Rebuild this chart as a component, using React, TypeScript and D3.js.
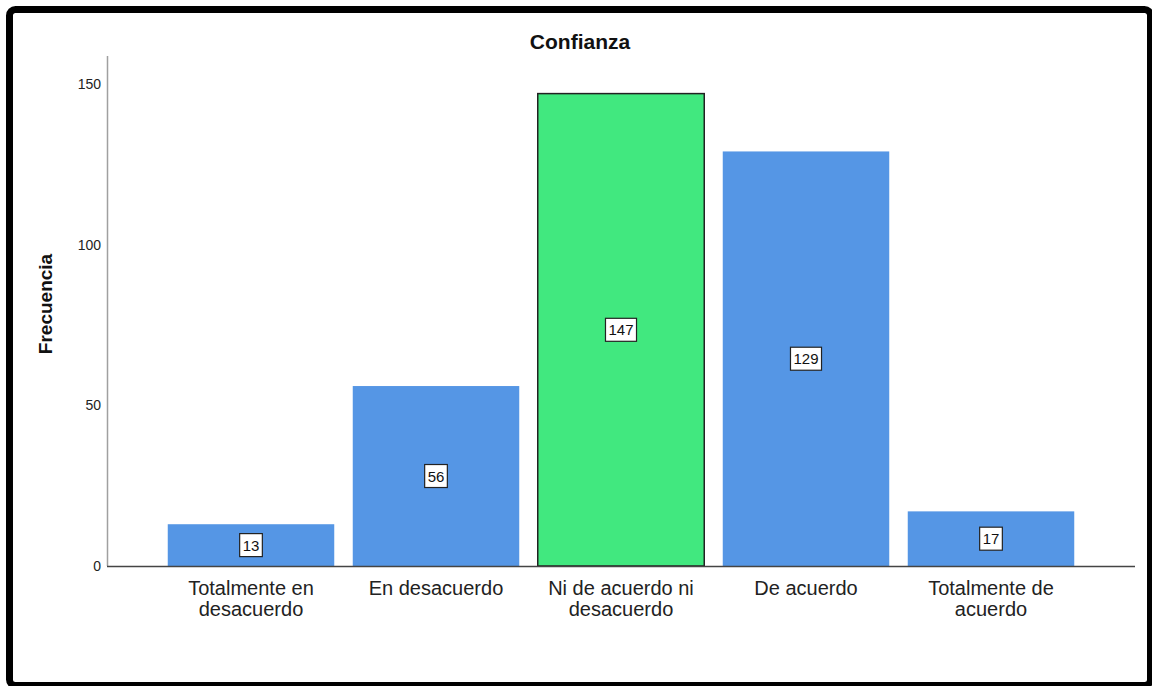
import React from "react";
import * as d3 from "d3";

const categories = [
  "Totalmente en desacuerdo",
  "En desacuerdo",
  "Ni de acuerdo ni desacuerdo",
  "De acuerdo",
  "Totalmente de acuerdo",
];
const categoryLines = [
  ["Totalmente en", "desacuerdo"],
  ["En desacuerdo"],
  ["Ni de acuerdo ni", "desacuerdo"],
  ["De acuerdo"],
  ["Totalmente de", "acuerdo"],
];
const values = [13, 56, 147, 129, 17];
const highlighted = [false, false, true, false, false];
const yTicks = [0, 50, 100, 150];
const title = "Confianza";
const yLabel = "Frecuencia";

const W = 1152;
const H = 686;
const FONT = "'Liberation Sans', Arial, sans-serif";

function textWidth(s: string, size: number) {
  return s.length * size * 0.556;
}

export default function App() {
  const x = d3
    .scaleBand<string>()
    .domain(categories)
    .range([158.5, 1083.5])
    .paddingInner(0.1)
    .paddingOuter(0.05);
  const y = d3.scaleLinear().domain([0, 158.7]).range([566, 56]);

  return (
    <svg
      width={W}
      height={H}
      style={{ position: "absolute", left: 0, top: 0, display: "block", background: "#fff" }}
      fontFamily={FONT}
    >
      <rect x={0} y={0} width={W} height={H} fill="#fff" />
      <rect x={9.5} y={9.5} width={1141} height={676} rx={6} fill="#fff" stroke="#000" strokeWidth={7} />

      <text x={580} y={49} textAnchor="middle" fontSize={21} fontWeight="bold" fill="#111">
        {title}
      </text>

      <text
        transform={`translate(52,304) rotate(-90)`}
        textAnchor="middle"
        fontSize={19}
        fontWeight="bold"
        fill="#111"
      >
        {yLabel}
      </text>

      {categories.map((c, i) => {
        const bx = x(c)!;
        const bw = x.bandwidth();
        const v = values[i];
        const top = y(v);
        const hl = highlighted[i];
        return (
          <g key={c}>
            <rect
              x={bx}
              y={top}
              width={bw}
              height={y(0) - top}
              fill={hl ? "#41E87F" : "#5596E5"}
              stroke={hl ? "#222" : "none"}
              strokeWidth={hl ? 1.5 : 0}
            />
          </g>
        );
      })}

      <line x1={107.5} x2={107.5} y1={y.range()[1]} y2={y(0)} stroke="#a0a0a0" strokeWidth={1.5} />
      <line x1={107} x2={1135} y1={y(0) + 0.5} y2={y(0) + 0.5} stroke="#444" strokeWidth={1.3} />

      {yTicks.map((t) => (
        <text key={t} x={101} y={y(t) + 5} textAnchor="end" fontSize={14} fill="#222">
          {t}
        </text>
      ))}

      {categories.map((c, i) => {
        const cx = x(c)! + x.bandwidth() / 2;
        const v = values[i];
        const cy = y(v / 2);
        const label = String(v);
        const tw = textWidth(label, 15);
        const bw = tw + 6;
        const bh = 23;
        return (
          <g key={"lab" + c}>
            <rect
              x={cx - bw / 2}
              y={cy - bh / 2}
              width={bw}
              height={bh}
              fill="#fff"
              stroke="#222"
              strokeWidth={1.2}
            />
            <text x={cx} y={cy + 5.5} textAnchor="middle" fontSize={15} fill="#111">
              {label}
            </text>
          </g>
        );
      })}

      {categories.map((c, i) => {
        const cx = x(c)! + x.bandwidth() / 2;
        return (
          <text key={"cat" + c} textAnchor="middle" fontSize={20} fill="#222">
            {categoryLines[i].map((ln, j) => (
              <tspan key={j} x={cx} y={595 + j * 21}>
                {ln}
              </tspan>
            ))}
          </text>
        );
      })}
    </svg>
  );
}
